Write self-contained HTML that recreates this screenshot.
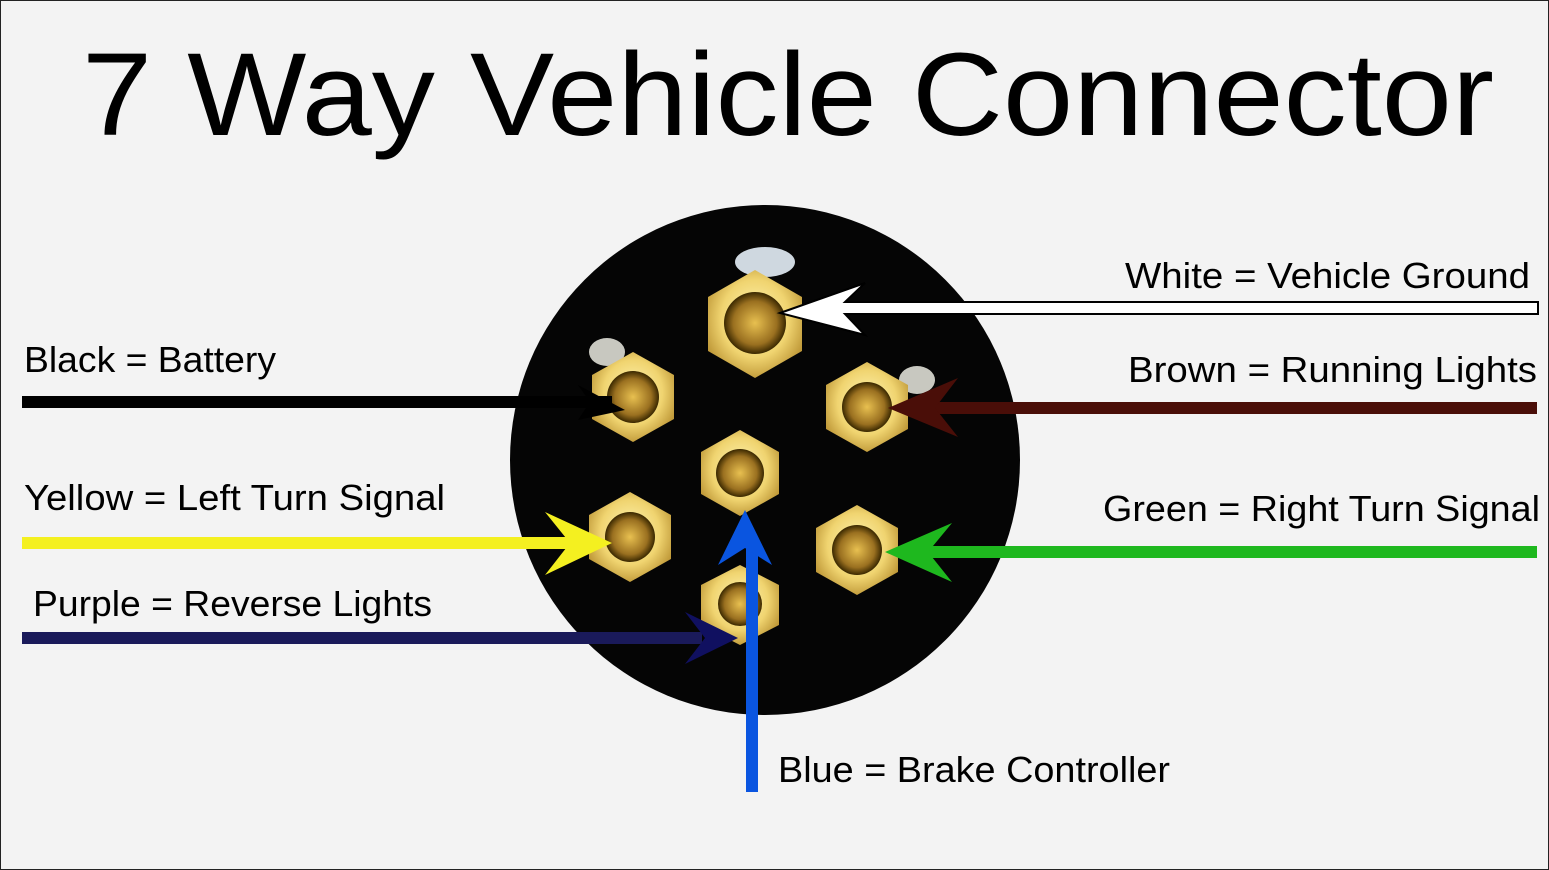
<!DOCTYPE html>
<html><head><meta charset="utf-8"><style>
html,body{margin:0;padding:0;background:#f4f4f4;}
svg{display:block}
text{font-family:"Liberation Sans","DejaVu Sans",sans-serif;fill:#000}
</style></head><body>
<svg width="1549" height="870" viewBox="0 0 1549 870" xmlns="http://www.w3.org/2000/svg">
<rect width="1549" height="870" fill="#f3f3f3"/>
<rect x="0.5" y="0.5" width="1548" height="869" fill="none" stroke="#222" stroke-width="1"/>
<text x="788" y="135" font-size="118" text-anchor="middle" textLength="1412" lengthAdjust="spacingAndGlyphs">7 Way Vehicle Connector</text>

<circle cx="765" cy="460" r="255" fill="#050505"/>
<defs>
<radialGradient id="g" cx="50%" cy="45%" r="60%">
<stop offset="0" stop-color="#fff6b8"/><stop offset="0.6" stop-color="#f0d470"/><stop offset="1" stop-color="#b89030"/>
</radialGradient>
<radialGradient id="h" cx="50%" cy="50%" r="50%">
<stop offset="0" stop-color="#e8c050"/><stop offset="0.7" stop-color="#9a7020"/><stop offset="1" stop-color="#3a2800"/>
</radialGradient>
</defs>
<g>
<ellipse cx="765" cy="262" rx="30" ry="15" fill="#cfd8e0"/>
<ellipse cx="607" cy="352" rx="18" ry="14" fill="#c8c8c0"/>
<ellipse cx="917" cy="380" rx="18" ry="14" fill="#c8c8c0"/>
</g>
<g id="nuts">
<polygon points="755,270 802,297 802,351 755,378 708,351 708,297" fill="url(#g)"/><circle cx="755" cy="323" r="31" fill="url(#h)"/>
<polygon points="633,352 674,375 674,419 633,442 592,419 592,375" fill="url(#g)"/><circle cx="633" cy="397" r="26" fill="url(#h)"/>
<polygon points="867,362 908,385 908,429 867,452 826,429 826,385" fill="url(#g)"/><circle cx="867" cy="407" r="25" fill="url(#h)"/>
<polygon points="740,430 779,452 779,494 740,516 701,494 701,452" fill="url(#g)"/><circle cx="740" cy="473" r="24" fill="url(#h)"/>
<polygon points="630,492 671,515 671,559 630,582 589,559 589,515" fill="url(#g)"/><circle cx="630" cy="537" r="25" fill="url(#h)"/>
<polygon points="857,505 898,528 898,572 857,595 816,572 816,528" fill="url(#g)"/><circle cx="857" cy="550" r="25" fill="url(#h)"/>
<polygon points="740,565 779,585 779,625 740,645 701,625 701,585" fill="url(#g)"/><circle cx="740" cy="604" r="22" fill="url(#h)"/>
</g>

<!-- Black -->
<rect x="22" y="396" width="590" height="12" fill="#000"/>
<polygon points="625,410 578,385 590,402 578,420" fill="#000"/>
<!-- White -->
<polygon points="780,313 865,283 845,302 1538,302 1538,314 845,314 865,335" fill="#fff" stroke="#000" stroke-width="2"/>
<!-- Brown -->
<rect x="930" y="402" width="607" height="12" fill="#4a0e08"/>
<polygon points="888,408 958,378 935,408 958,437" fill="#4a0e08"/>
<!-- Yellow -->
<rect x="22" y="537" width="560" height="12" fill="#f4f020"/>
<polygon points="612,543 545,512 570,543 545,575" fill="#f4f020"/>
<!-- Green -->
<rect x="925" y="546" width="612" height="12" fill="#1eb81e"/>
<polygon points="885,552 952,523 928,552 952,582" fill="#1eb81e"/>
<!-- Purple -->
<rect x="22" y="632" width="680" height="12" fill="#1a1a5a"/>
<polygon points="738,638 685,612 705,638 685,664" fill="#101060"/>
<!-- Blue -->
<rect x="746" y="540" width="12" height="252" fill="#0a55e0"/>
<polygon points="745,510 718,565 745,548 772,565" fill="#0a55e0"/>

<text x="24" y="372" font-size="36" textLength="252" lengthAdjust="spacingAndGlyphs">Black = Battery</text>
<text x="24" y="510" font-size="36" textLength="421" lengthAdjust="spacingAndGlyphs">Yellow = Left Turn Signal</text>
<text x="33" y="616" font-size="36" textLength="399" lengthAdjust="spacingAndGlyphs">Purple = Reverse Lights</text>
<text x="1125" y="288" font-size="36" textLength="405" lengthAdjust="spacingAndGlyphs">White = Vehicle Ground</text>
<text x="1128" y="382" font-size="36" textLength="409" lengthAdjust="spacingAndGlyphs">Brown = Running Lights</text>
<text x="1103" y="521" font-size="36" textLength="437" lengthAdjust="spacingAndGlyphs">Green = Right Turn Signal</text>
<text x="778" y="782" font-size="36" textLength="392" lengthAdjust="spacingAndGlyphs">Blue = Brake Controller</text>
</svg>
</body></html>
